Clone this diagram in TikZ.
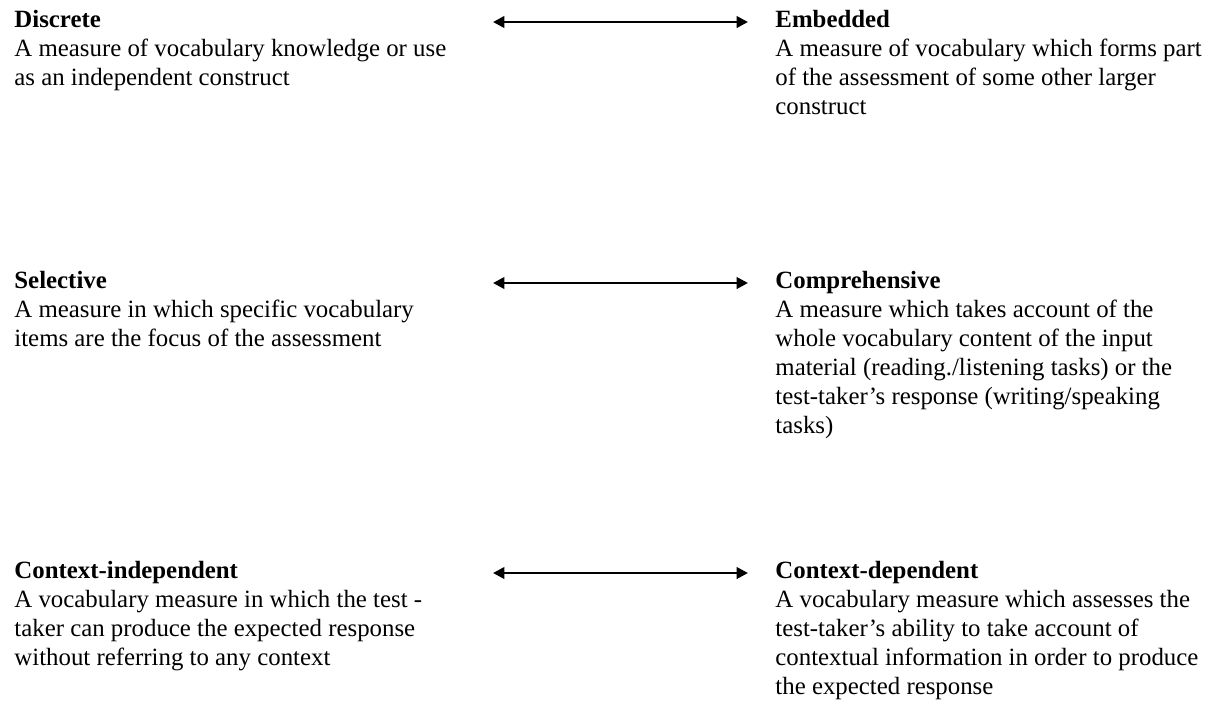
\documentclass[tikz,border=0pt]{standalone}
\usepackage{fontspec}
\setmainfont{Liberation Serif}
\usetikzlibrary{arrows.meta}

\begin{document}
\begin{tikzpicture}[x=0.483pt, y=-0.483pt,
  block/.style={anchor=north west, inner sep=0pt, align=left,
    font=\fontsize{12}{14}\selectfont, execute at begin node=\strut},
  pair/.style={line width=1.3pt, {Triangle[length=5.5pt,width=5.5pt]}-{Triangle[length=5.5pt,width=5.5pt]}}]
% Fix the page size
\useasboundingbox (0,0) rectangle (1214,708);

% First row
\node[block] (discrete) at (14,10) {\textbf{Discrete}\\
A measure of vocabulary knowledge or use\\
as an independent construct};
\node[block] (embedded) at (775,10) {\textbf{Embedded}\\
A measure of vocabulary which forms part\\
of the assessment of some other larger\\
construct};
\coordinate (l1) at (493,22);
\coordinate (r1) at (748,22);
\draw[pair] (l1) -- (r1);

% Second row
\node[block] (selective) at (14,271) {\textbf{Selective}\\
A measure in which specific vocabulary\\
items are the focus of the assessment};
\node[block] (comprehensive) at (775,271) {\textbf{Comprehensive}\\
A measure which takes account of the\\
whole vocabulary content of the input\\
material (reading./listening tasks) or the\\
test-taker’s response (writing/speaking\\
tasks)};
\coordinate (l2) at (493,283);
\coordinate (r2) at (748,283);
\draw[pair] (l2) -- (r2);

% Third row
\node[block] (indep) at (14,561) {\textbf{Context-independent}\\
A vocabulary measure in which the test -\\
taker can produce the expected response\\
without referring to any context};
\node[block] (dep) at (775,561) {\textbf{Context-dependent}\\
A vocabulary measure which assesses the\\
test-taker’s ability to take account of\\
contextual information in order to produce\\
the expected response};
\coordinate (l3) at (493,573);
\coordinate (r3) at (748,573);
\draw[pair] (l3) -- (r3);
\end{tikzpicture}
\end{document}
